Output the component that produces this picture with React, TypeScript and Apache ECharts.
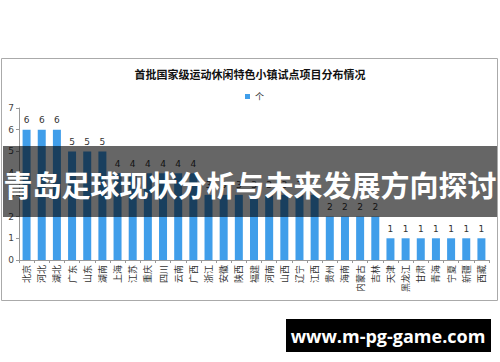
import React, { useEffect, useRef } from "react";
import * as echarts from "echarts";

const categories = [
  "北京", "河北", "湖北", "广东", "山东", "湖南", "上海", "江苏", "重庆", "四川", "云南",
  "广西", "浙江", "安徽", "陕西", "福建", "河南", "山西", "辽宁", "江西", "贵州", "海南",
  "内蒙古", "吉林", "天津", "黑龙江", "甘肃", "青海", "宁夏", "新疆", "西藏",
];
const values = [6, 6, 6, 5, 5, 5, 4, 4, 4, 4, 4, 4, 3, 3, 3, 3, 3, 3, 3, 3, 2, 2, 2, 2, 1, 1, 1, 1, 1, 1, 1];
const yTicks = [0, 1, 2, 3, 4, 5, 6, 7];
const seriesName = "个";
const chartTitle = "首批国家级运动休闲特色小镇试点项目分布情况";
const bannerText = "青岛足球现状分析与未来发展方向探讨";
const siteText = "www.m-pg-game.com";

export default function App() {
  const ref = useRef<HTMLDivElement>(null);
  useEffect(() => {
    if (!ref.current) return;
    const chart = echarts.init(ref.current, null, { renderer: "svg" });
    chart.setOption({
      animation: false,
      backgroundColor: "#ffffff",
      title: {
        text: chartTitle,
        left: "center",
        top: 63,
        textStyle: {
          fontSize: 11,
          fontWeight: "bold",
          color: "#111",
          fontFamily: "Noto Sans CJK SC",
        },
      },
      legend: {
        data: [seriesName],
        left: 240,
        top: 87,
        itemWidth: 5,
        itemHeight: 5,
        itemGap: 4,
        icon: "rect",
        textStyle: { fontSize: 9, color: "#333", fontFamily: "Noto Sans CJK SC" },
      },
      grid: { left: 19, right: 11, top: 108, bottom: 102, containLabel: false },
      xAxis: {
        type: "category",
        data: categories,
        axisLine: { lineStyle: { color: "#999", width: 1 } },
        axisTick: { show: true, length: 3, lineStyle: { color: "#999" } },
        axisLabel: {
          rotate: 90,
          interval: 0,
          fontSize: 9,
          color: "#333",
          margin: 5,
          fontFamily: "Noto Sans CJK SC",
        },
      },
      yAxis: {
        type: "value",
        min: yTicks[0],
        max: yTicks[yTicks.length - 1],
        interval: 1,
        axisLine: { show: true, lineStyle: { color: "#999" } },
        axisTick: { show: true, length: 3, lineStyle: { color: "#999" } },
        splitLine: { show: false },
        axisLabel: { fontSize: 9, color: "#444", margin: 5, fontFamily: "DejaVu Sans" },
      },
      series: [
        {
          name: seriesName,
          type: "bar",
          data: values,
          barWidth: 8,
          itemStyle: { color: "#409eea" },
          label: {
            show: true,
            position: "top",
            distance: 5,
            fontSize: 9,
            color: "#333",
            fontFamily: "DejaVu Sans",
          },
        },
      ],
      graphic: [
        {
          type: "rect",
          shape: { x: 1.5, y: 58.5, width: 496, height: 242 },
          style: { fill: "none", stroke: "#aaa", lineWidth: 1 },
          silent: true,
          z: 100,
        },
        {
          type: "rect",
          shape: { x: 3, y: 146, width: 494, height: 71 },
          style: { fill: "rgba(0,0,0,0.6)" },
          silent: true,
          z: 101,
        },
        {
          type: "text",
          x: 250,
          y: 184,
          style: {
            text: bannerText,
            fill: "#ffffff",
            fontSize: 29,
            fontWeight: "bold",
            fontFamily: "Noto Sans CJK SC",
            align: "center",
            verticalAlign: "middle",
          },
          silent: true,
          z: 102,
        },
        {
          type: "rect",
          shape: { x: 286, y: 319, width: 205, height: 33 },
          style: { fill: "#000000" },
          silent: true,
          z: 101,
        },
        {
          type: "text",
          x: 388,
          y: 336,
          style: {
            text: siteText,
            fill: "#ffffff",
            fontSize: 18,
            fontWeight: "bold",
            fontFamily: "Open Sans",
            align: "center",
            verticalAlign: "middle",
          },
          silent: true,
          z: 102,
        },
      ],
    });
    return () => chart.dispose();
  }, []);
  return (
    <div style={{ position: "fixed", left: 0, top: 0, width: 500, height: 362, background: "#fff" }}>
      <div ref={ref} style={{ width: 500, height: 362 }} />
    </div>
  );
}
